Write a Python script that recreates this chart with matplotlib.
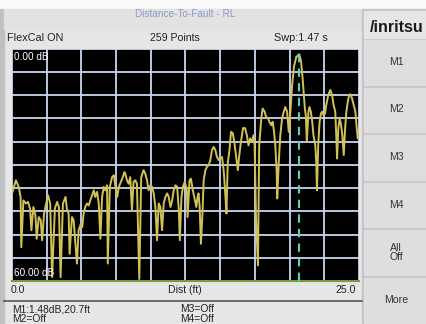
import matplotlib
matplotlib.use('Agg')
import matplotlib.pyplot as plt
from matplotlib.patches import Rectangle
import numpy as np

# trace (distance in ft, return loss in dB)
dist_ft = [0.04, 0.28, 0.48, 0.62, 0.67, 0.82, 1.01, 1.15, 1.30, 1.40, 1.54, 1.69, 1.78, 1.93,
           2.07, 2.17, 2.31, 2.46, 2.60, 2.75, 2.89, 3.09, 3.25, 3.38, 3.50, 3.67, 3.86,
           3.95, 4.08, 4.15, 4.32, 4.44, 4.68, 4.80, 4.97, 5.06, 5.16, 5.28, 5.40, 5.53, 5.64,
           5.77, 5.89, 6.00, 6.13, 6.25, 6.37, 6.49, 6.61, 6.73, 6.85, 6.90, 7.05, 7.21, 7.34,
           7.45, 7.58, 7.70, 7.94, 8.10,
           8.16, 8.28, 8.40, 8.52, 8.64, 8.76, 8.88, 9.00, 9.17, 9.31, 9.48, 9.60, 9.73, 9.84,
           9.97, 10.09, 10.21, 10.33, 10.45, 10.57, 10.69, 10.81, 10.93, 11.05, 11.18, 11.29,
           11.42, 11.54, 11.65, 11.78, 11.90, 12.02, 12.09, 12.21, 12.31, 12.45,
           12.60, 12.65, 12.79, 12.89, 13.03, 13.13, 13.28, 13.37, 13.44, 13.52, 13.61, 13.71,
           13.81, 13.93, 14.04, 14.17, 14.29, 14.41, 14.53, 14.65, 14.77, 14.89, 15.01, 15.13,
           15.25, 15.38, 15.45, 15.54, 15.67, 15.78, 15.91, 16.03, 16.15, 16.27, 16.36, 16.51, 16.65,
           16.80, 16.92, 17.04, 17.16, 17.28, 17.40, 17.48, 17.58, 17.72, 17.81, 17.96, 18.06,
           18.20, 18.30, 18.44, 18.54, 18.68, 18.78, 18.88, 18.97, 19.07, 19.11, 19.22, 19.33,
           19.46, 19.58, 19.69, 19.82, 19.94, 20.06,
           20.18, 20.32, 20.48, 20.70, 20.82, 20.94, 21.03, 21.10, 21.17, 21.24, 21.36, 21.43,
           21.53, 21.63, 21.72, 21.85, 21.92, 21.97, 22.06, 22.16, 22.26, 22.35, 22.45, 22.55,
           22.64, 22.79, 22.93, 23.06, 23.17, 23.29, 23.37, 23.42, 23.51, 23.61, 23.71, 23.80,
           23.90, 24.00, 24.09, 24.19, 24.29, 24.38, 24.50, 24.62, 24.74, 24.82, 24.91, 24.98]

rl_db = [37.0, 34.0, 35.7, 38.3, 51.3, 39.2, 40.0, 39.6, 41.3, 46.9, 40.9, 43.1, 49.1, 43.5,
         44.3, 49.5, 42.6, 40.0, 37.9, 40.0, 59.0, 41.3, 39.6, 40.9, 59.0, 40.0, 38.3,
         41.3, 42.6, 53.0, 43.5, 44.3, 55.5, 46.9, 45.2, 46.1, 42.6, 40.9, 40.0, 40.5, 39.2,
         37.9, 36.6, 38.3, 37.0, 40.0, 49.1, 38.3, 35.7, 36.6, 35.3, 55.5, 35.7, 33.2, 32.7,
         35.7, 38.3, 35.7, 33.6, 31.9,
         32.3, 34.0, 34.9, 33.2, 41.8, 34.4, 34.0, 34.9, 59.5, 33.2, 31.4, 32.3, 34.0, 36.6,
         35.3, 35.7, 37.4, 40.9, 49.5, 40.0, 40.9, 46.9, 40.0, 38.3, 37.4, 38.3,
         40.9, 39.2, 36.6, 35.3, 35.7, 41.8, 49.5, 38.3, 35.7, 34.4,
         36.6, 43.5, 34.0, 33.6, 36.6, 38.3, 40.9, 38.3, 37.4, 40.9, 50.4, 43.5,
         34.0, 31.4, 30.6, 30.1, 28.8, 26.2, 25.4, 26.2, 28.0, 28.8, 28.4, 28.0,
         31.4, 38.3, 42.6, 29.7, 26.2, 21.5, 21.9, 24.5, 28.0, 31.4, 28.0, 23.7, 20.5,
         20.6, 22.4, 25.0, 23.2, 24.1, 22.4, 25.0, 43.8, 56.0, 25.0, 18.0, 15.5,
         16.3, 17.6, 18.0, 18.9, 19.8, 18.9, 21.5, 25.0, 31.9, 38.7, 29.3, 22.4,
         18.0, 16.3, 15.1, 16.3, 21.5, 16.3,
         9.4, 4.6, 2.2, 1.48, 3.2, 7.8, 12.1, 15.5, 17.3, 24.1, 16.3, 15.1,
         16.3, 18.9, 22.4, 25.0, 29.3, 36.6, 25.0, 18.9, 16.8, 16.3, 17.2, 16.8,
         14.6, 12.0, 10.7, 12.0, 14.6, 16.3, 23.2, 28.4, 20.6, 18.0, 19.8, 22.4,
         27.5, 20.6, 16.3, 13.8, 12.0, 11.8, 12.9, 14.6, 16.3, 19.8, 23.2, 21.5]

marker_ft = 20.7
marker_db = 1.48
x_range = (0.0, 25.0)
y_range = (0.0, 60.0)
buttons = ['M1', 'M2', 'M3', 'M4', 'All\nOff', 'More']

W, H = 427, 324
fig = plt.figure(figsize=(W / 100, H / 100), dpi=100)
fig.patch.set_facecolor('#e6e6e6')
plt.rcParams['font.family'] = ['Liberation Sans', 'DejaVu Sans']

# background layer in pixel coordinates
bg = fig.add_axes([0, 0, 1, 1])
bg.set_xlim(0, W)
bg.set_ylim(H, 0)
bg.axis('off')
bg.add_patch(Rectangle((0, 0), W, 9, color='#fafafa'))
bg.add_patch(Rectangle((0, 9), 4, H, color='#c0c0c0'))
bg.add_patch(Rectangle((4, 9), 358, 20, color='#e2e2e2'))
bg.add_patch(Rectangle((362, 9), W - 362, H, color='#c4c4c4'))
bg.add_patch(Rectangle((364, 11), W - 364, 27, color='#e6e6e6'))
btn_top = 40
btn_h = 47.6
for i, b in enumerate(buttons):
    y0 = btn_top + i * btn_h
    bg.add_patch(Rectangle((364, y0), W - 364, btn_h - 3, color='#dedede'))
    bg.text(396, y0 + btn_h / 2 - 2, b, ha='center', va='center', fontsize=7.6,
            color='#333333', linespacing=0.9)
bg.text(397, 27, '/inritsu', ha='center', va='center', fontsize=11.5,
        fontweight='bold', color='#1a1a1a')
bg.plot([4, 362], [300.5, 300.5], color='#555555', lw=1.2)

bg.text(185, 14, 'Distance-To-Fault - RL', ha='center', va='center',
        fontsize=7.2, color='#8c9cc8')
bg.text(7, 38, 'FlexCal ON', ha='left', va='center', fontsize=7.8, color='#222222')
bg.text(175, 38, '259 Points', ha='center', va='center', fontsize=7.6, color='#222222')
bg.text(301, 38, 'Swp:1.47 s', ha='center', va='center', fontsize=7.8, color='#222222')
bg.text(11, 290, '0.0', ha='left', va='center', fontsize=7.6, color='#222222')
bg.text(185, 290, 'Dist (ft)', ha='center', va='center', fontsize=7.6, color='#222222')
bg.text(356, 290, '25.0', ha='right', va='center', fontsize=7.6, color='#222222')
bg.text(12, 309, 'M1:1.48dB,20.7ft', ha='left', va='center', fontsize=7.4, color='#222222')
bg.text(12, 319.5, 'M2=Off', ha='left', va='center', fontsize=7.4, color='#222222')
bg.text(180, 309, 'M3=Off', ha='left', va='center', fontsize=7.4, color='#222222')
bg.text(180, 319.5, 'M4=Off', ha='left', va='center', fontsize=7.4, color='#222222')

# trace area
left, right, top, bottom = 12, 359, 48.5, 281
ax = fig.add_axes([left / W, 1 - bottom / H, (right - left) / W, (bottom - top) / H])
ax.set_facecolor('black')
ax.set_xlim(*x_range)
ax.set_ylim(y_range[1], y_range[0])
ax.set_xticks(np.linspace(x_range[0], x_range[1], 11))
ax.set_yticks(np.linspace(y_range[0], y_range[1], 11))
ax.tick_params(length=0, labelbottom=False, labelleft=False)
ax.grid(True, color='#c8d6ee', lw=1.3)
for s in ax.spines.values():
    s.set_visible(False)
ax.spines['bottom'].set_visible(True)
ax.spines['bottom'].set_color('#7a9a40')
ax.spines['bottom'].set_linewidth(1.5)

ax.plot(dist_ft, rl_db, color='#d2c256', lw=1.4, zorder=3)
ax.axvline(marker_ft, color='#5ccfc0', lw=1.5, ls=(0, (4, 3)), zorder=4)

ax.text(0.005, 0.985, '0.00 dB', transform=ax.transAxes, ha='left', va='top',
        fontsize=7.2, color='white')
ax.text(0.005, 0.015, '60.00 dB', transform=ax.transAxes, ha='left', va='bottom',
        fontsize=7.2, color='white')

fig.savefig('out.png', dpi=100, facecolor=fig.get_facecolor())
